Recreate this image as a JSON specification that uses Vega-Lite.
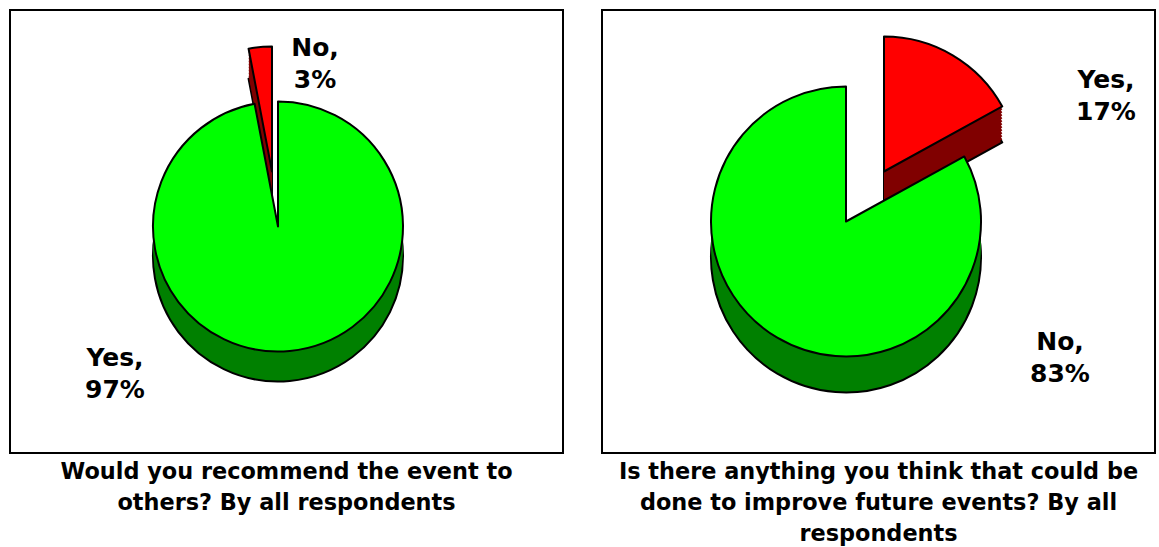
{
  "$schema": "https://vega.github.io/schema/vega-lite/v6.json",
  "padding": {"left": 9, "top": 9, "right": 0, "bottom": 0},
  "spacing": 37,
  "datasets": {
    "recommend": [
      {"answer": "Yes", "pct": 97, "label": "Yes,\n97%"},
      {"answer": "No", "pct": 3, "label": "No,\n3%"}
    ],
    "improve": [
      {"answer": "Yes", "pct": 17, "label": "Yes,\n17%"},
      {"answer": "No", "pct": 83, "label": "No,\n83%"}
    ],
    "frame": [{"panel": "frame"}]
  },
  "config": {
    "view": {"stroke": "black", "strokeWidth": 2},
    "title": {"font": "DejaVu Sans", "fontSize": 22.4, "fontWeight": "bold", "color": "black", "orient": "bottom", "anchor": "middle", "offset": 7, "lineHeight": 31},
    "arc": {"strokeJoin": "round"},
    "text": {"font": "DejaVu Sans", "fontSize": 25, "fontWeight": "bold", "color": "black", "lineBreak": "\n", "lineHeight": 32, "align": "center", "baseline": "middle"}
  },
  "hconcat": [
    {
      "width": 553,
      "height": 443,
      "title": {"text": ["Would you recommend the event to", "others? By all respondents"]},
      "data": {"name": "recommend"},
      "encoding": {
        "theta": {"field": "pct", "type": "quantitative", "stack": true},
        "order": {"field": "answer", "sort": "descending"}
      },
      "layer": [
        {"data": {"name": "frame"}, "mark": {"type": "rect", "fill": "white", "stroke": "black", "strokeWidth": 2},
         "encoding": {"theta": null, "order": null}},
        {"mark": {"type": "arc", "radius": 125, "xOffset": -14.5, "yOffset": -30, "stroke": "black", "strokeWidth": 2},
         "encoding": {"color": {"value": "#800000"},
                      "opacity": {"condition": {"test": "datum.answer === 'No'", "value": 1}, "value": 0}}},
        {"mark": {"type": "arc", "radius": 125, "xOffset": -14.5, "yOffset": -33},
         "encoding": {"color": {"value": "#800000"},
                      "opacity": {"condition": {"test": "datum.answer === 'No'", "value": 1}, "value": 0}}},
        {"mark": {"type": "arc", "radius": 125, "xOffset": -14.5, "yOffset": -36},
         "encoding": {"color": {"value": "#800000"},
                      "opacity": {"condition": {"test": "datum.answer === 'No'", "value": 1}, "value": 0}}},
        {"mark": {"type": "arc", "radius": 125, "xOffset": -14.5, "yOffset": -39},
         "encoding": {"color": {"value": "#800000"},
                      "opacity": {"condition": {"test": "datum.answer === 'No'", "value": 1}, "value": 0}}},
        {"mark": {"type": "arc", "radius": 125, "xOffset": -14.5, "yOffset": -42},
         "encoding": {"color": {"value": "#800000"},
                      "opacity": {"condition": {"test": "datum.answer === 'No'", "value": 1}, "value": 0}}},
        {"mark": {"type": "arc", "radius": 125, "xOffset": -14.5, "yOffset": -45},
         "encoding": {"color": {"value": "#800000"},
                      "opacity": {"condition": {"test": "datum.answer === 'No'", "value": 1}, "value": 0}}},
        {"mark": {"type": "arc", "radius": 125, "xOffset": -14.5, "yOffset": -48},
         "encoding": {"color": {"value": "#800000"},
                      "opacity": {"condition": {"test": "datum.answer === 'No'", "value": 1}, "value": 0}}},
        {"mark": {"type": "arc", "radius": 125, "xOffset": -14.5, "yOffset": -51},
         "encoding": {"color": {"value": "#800000"},
                      "opacity": {"condition": {"test": "datum.answer === 'No'", "value": 1}, "value": 0}}},
        {"mark": {"type": "arc", "radius": 125, "xOffset": -14.5, "yOffset": -54},
         "encoding": {"color": {"value": "#800000"},
                      "opacity": {"condition": {"test": "datum.answer === 'No'", "value": 1}, "value": 0}}},
        {"mark": {"type": "arc", "radius": 125, "xOffset": -14.5, "yOffset": -57},
         "encoding": {"color": {"value": "#800000"},
                      "opacity": {"condition": {"test": "datum.answer === 'No'", "value": 1}, "value": 0}}},
        {"mark": {"type": "arc", "radius": 125, "xOffset": -14.5, "yOffset": -60, "stroke": "black", "strokeWidth": 2},
         "encoding": {"color": {"value": "#FF0000"},
                      "opacity": {"condition": {"test": "datum.answer === 'No'", "value": 1}, "value": 0}}},
        {"mark": {"type": "arc", "radius": 125, "xOffset": -8.5, "yOffset": 25, "stroke": "black", "strokeWidth": 2},
         "encoding": {"color": {"value": "#008000"},
                      "opacity": {"condition": {"test": "datum.answer === 'Yes'", "value": 1}, "value": 0}}},
        {"mark": {"type": "arc", "radius": 125, "xOffset": -8.5, "yOffset": 15},
         "encoding": {"color": {"value": "#008000"},
                      "opacity": {"condition": {"test": "datum.answer === 'Yes'", "value": 1}, "value": 0}}},
        {"mark": {"type": "arc", "radius": 125, "xOffset": -8.5, "yOffset": 5},
         "encoding": {"color": {"value": "#008000"},
                      "opacity": {"condition": {"test": "datum.answer === 'Yes'", "value": 1}, "value": 0}}},
        {"mark": {"type": "arc", "radius": 125, "xOffset": -8.5, "yOffset": -5, "stroke": "black", "strokeWidth": 2},
         "encoding": {"color": {"value": "#00FF00"},
                      "opacity": {"condition": {"test": "datum.answer === 'Yes'", "value": 1}, "value": 0}}},
        {"transform": [{"filter": "datum.answer === 'No'"}],
         "mark": {"type": "text", "dx": 28.5, "dy": -183.5},
         "encoding": {"theta": null, "order": null, "text": {"field": "label"}}},
        {"transform": [{"filter": "datum.answer === 'Yes'"}],
         "mark": {"type": "text", "dx": -171.5, "dy": 126.5},
         "encoding": {"theta": null, "order": null, "text": {"field": "label"}}}
      ]
    },
    {
      "width": 553,
      "height": 443,
      "title": {"text": ["Is there anything you think that could be", "done to improve future events? By all", "respondents"]},
      "data": {"name": "improve"},
      "encoding": {
        "theta": {"field": "pct", "type": "quantitative", "stack": true},
        "order": {"field": "answer", "sort": "descending"}
      },
      "layer": [
        {"data": {"name": "frame"}, "mark": {"type": "rect", "fill": "white", "stroke": "black", "strokeWidth": 2},
         "encoding": {"theta": null, "order": null}},
        {"mark": {"type": "arc", "radius": 135, "xOffset": 5.5, "yOffset": -24, "stroke": "black", "strokeWidth": 2},
         "encoding": {"color": {"value": "#800000"},
                      "opacity": {"condition": {"test": "datum.answer === 'Yes'", "value": 1}, "value": 0}}},
        {"mark": {"type": "arc", "radius": 135, "xOffset": 5.5, "yOffset": -27},
         "encoding": {"color": {"value": "#800000"},
                      "opacity": {"condition": {"test": "datum.answer === 'Yes'", "value": 1}, "value": 0}}},
        {"mark": {"type": "arc", "radius": 135, "xOffset": 5.5, "yOffset": -30},
         "encoding": {"color": {"value": "#800000"},
                      "opacity": {"condition": {"test": "datum.answer === 'Yes'", "value": 1}, "value": 0}}},
        {"mark": {"type": "arc", "radius": 135, "xOffset": 5.5, "yOffset": -33},
         "encoding": {"color": {"value": "#800000"},
                      "opacity": {"condition": {"test": "datum.answer === 'Yes'", "value": 1}, "value": 0}}},
        {"mark": {"type": "arc", "radius": 135, "xOffset": 5.5, "yOffset": -36},
         "encoding": {"color": {"value": "#800000"},
                      "opacity": {"condition": {"test": "datum.answer === 'Yes'", "value": 1}, "value": 0}}},
        {"mark": {"type": "arc", "radius": 135, "xOffset": 5.5, "yOffset": -39},
         "encoding": {"color": {"value": "#800000"},
                      "opacity": {"condition": {"test": "datum.answer === 'Yes'", "value": 1}, "value": 0}}},
        {"mark": {"type": "arc", "radius": 135, "xOffset": 5.5, "yOffset": -42},
         "encoding": {"color": {"value": "#800000"},
                      "opacity": {"condition": {"test": "datum.answer === 'Yes'", "value": 1}, "value": 0}}},
        {"mark": {"type": "arc", "radius": 135, "xOffset": 5.5, "yOffset": -45},
         "encoding": {"color": {"value": "#800000"},
                      "opacity": {"condition": {"test": "datum.answer === 'Yes'", "value": 1}, "value": 0}}},
        {"mark": {"type": "arc", "radius": 135, "xOffset": 5.5, "yOffset": -48},
         "encoding": {"color": {"value": "#800000"},
                      "opacity": {"condition": {"test": "datum.answer === 'Yes'", "value": 1}, "value": 0}}},
        {"mark": {"type": "arc", "radius": 135, "xOffset": 5.5, "yOffset": -51},
         "encoding": {"color": {"value": "#800000"},
                      "opacity": {"condition": {"test": "datum.answer === 'Yes'", "value": 1}, "value": 0}}},
        {"mark": {"type": "arc", "radius": 135, "xOffset": 5.5, "yOffset": -54},
         "encoding": {"color": {"value": "#800000"},
                      "opacity": {"condition": {"test": "datum.answer === 'Yes'", "value": 1}, "value": 0}}},
        {"mark": {"type": "arc", "radius": 135, "xOffset": 5.5, "yOffset": -57},
         "encoding": {"color": {"value": "#800000"},
                      "opacity": {"condition": {"test": "datum.answer === 'Yes'", "value": 1}, "value": 0}}},
        {"mark": {"type": "arc", "radius": 135, "xOffset": 5.5, "yOffset": -60, "stroke": "black", "strokeWidth": 2},
         "encoding": {"color": {"value": "#FF0000"},
                      "opacity": {"condition": {"test": "datum.answer === 'Yes'", "value": 1}, "value": 0}}},
        {"mark": {"type": "arc", "radius": 135, "xOffset": -32.5, "yOffset": 26, "stroke": "black", "strokeWidth": 2},
         "encoding": {"color": {"value": "#008000"},
                      "opacity": {"condition": {"test": "datum.answer === 'No'", "value": 1}, "value": 0}}},
        {"mark": {"type": "arc", "radius": 135, "xOffset": -32.5, "yOffset": 14},
         "encoding": {"color": {"value": "#008000"},
                      "opacity": {"condition": {"test": "datum.answer === 'No'", "value": 1}, "value": 0}}},
        {"mark": {"type": "arc", "radius": 135, "xOffset": -32.5, "yOffset": 2},
         "encoding": {"color": {"value": "#008000"},
                      "opacity": {"condition": {"test": "datum.answer === 'No'", "value": 1}, "value": 0}}},
        {"mark": {"type": "arc", "radius": 135, "xOffset": -32.5, "yOffset": -10, "stroke": "black", "strokeWidth": 2},
         "encoding": {"color": {"value": "#00FF00"},
                      "opacity": {"condition": {"test": "datum.answer === 'No'", "value": 1}, "value": 0}}},
        {"transform": [{"filter": "datum.answer === 'Yes'"}],
         "mark": {"type": "text", "dx": 227.5, "dy": -152},
         "encoding": {"theta": null, "order": null, "text": {"field": "label"}}},
        {"transform": [{"filter": "datum.answer === 'No'"}],
         "mark": {"type": "text", "dx": 181.5, "dy": 110},
         "encoding": {"theta": null, "order": null, "text": {"field": "label"}}}
      ]
    }
  ]
}
